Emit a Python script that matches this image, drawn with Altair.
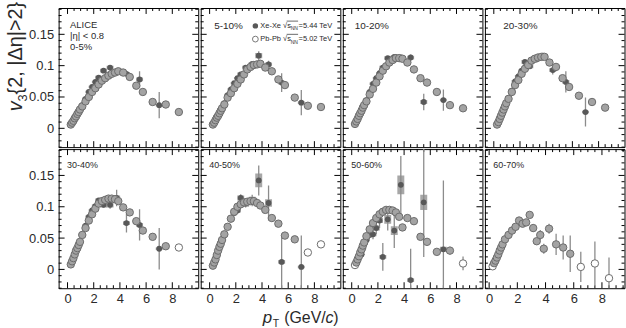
import altair as alt
import pandas as pd

FONT = "Liberation Sans"

CENTRALITY = ["0-5%", "5-10%", "10-20%", "20-30%", "30-40%", "40-50%", "50-60%", "60-70%"]

X_MAJOR = [0, 2, 4, 6, 8]
X_MINOR = [0.5, 1, 1.5, 2.5, 3, 3.5, 4.5, 5, 5.5, 6.5, 7, 7.5, 8.5, 9, 9.5]
Y_MAJOR = [0, 0.05, 0.1, 0.15]
Y_MINOR = [-0.03, -0.02, -0.01, 0.01, 0.02, 0.03, 0.04, 0.06, 0.07, 0.08, 0.09,
           0.11, 0.12, 0.13, 0.14, 0.16, 0.17, 0.18, 0.19]

PB_PT = [0.25, 0.35, 0.45, 0.55, 0.65, 0.75, 0.85, 0.95, 1.125, 1.375, 1.625, 1.875,
         2.125, 2.375, 2.625, 2.875, 3.125, 3.375, 3.625, 3.875, 4.25, 4.75, 5.25, 5.75,
         6.5, 7.5, 8.5]

PB_V = {
    "0-5%":   [0.006, 0.009, 0.012, 0.016, 0.019, 0.023, 0.026, 0.030, 0.035, 0.043, 0.050, 0.058, 0.064, 0.070, 0.076, 0.080, 0.084, 0.087, 0.089, 0.091, 0.089, 0.082, 0.068, 0.058, 0.042, 0.038, 0.026],
    "5-10%":  [0.006, 0.009, 0.013, 0.017, 0.020, 0.024, 0.028, 0.032, 0.038, 0.049, 0.056, 0.064, 0.071, 0.078, 0.086, 0.094, 0.098, 0.101, 0.102, 0.103, 0.097, 0.091, 0.078, 0.069, 0.049, 0.036, 0.034],
    "10-20%": [0.007, 0.011, 0.015, 0.020, 0.024, 0.028, 0.033, 0.037, 0.043, 0.054, 0.063, 0.073, 0.083, 0.092, 0.099, 0.105, 0.109, 0.112, 0.112, 0.111, 0.105, 0.094, 0.080, 0.073, 0.058, 0.037, 0.032],
    "20-30%": [0.006, 0.010, 0.015, 0.020, 0.025, 0.030, 0.035, 0.040, 0.047, 0.058, 0.069, 0.077, 0.087, 0.095, 0.101, 0.108, 0.111, 0.113, 0.114, 0.114, 0.105, 0.098, 0.080, 0.066, 0.052, 0.042, 0.033],
    "30-40%": [0.008, 0.013, 0.018, 0.024, 0.030, 0.034, 0.039, 0.044, 0.055, 0.066, 0.078, 0.088, 0.097, 0.105, 0.109, 0.111, 0.113, 0.113, 0.112, 0.109, 0.099, 0.091, 0.077, 0.062, 0.052, 0.037, 0.035],
    "40-50%": [0.006, 0.011, 0.016, 0.023, 0.030, 0.036, 0.041, 0.047, 0.056, 0.068, 0.081, 0.092, 0.100, 0.104, 0.107, 0.108, 0.109, 0.109, 0.106, 0.102, 0.095, 0.082, 0.073, 0.054, 0.048, 0.027, 0.040],
    "50-60%": [0.007, 0.011, 0.016, 0.021, 0.027, 0.032, 0.038, 0.043, 0.053, 0.064, 0.074, 0.082, 0.088, 0.092, 0.095, 0.095, 0.094, 0.091, 0.084, 0.067, 0.082, 0.077, 0.052, 0.044, 0.028, 0.030, 0.0095],
    "60-70%": [0.005, 0.010, 0.014, 0.019, 0.024, 0.030, 0.035, 0.040, 0.048, 0.055, 0.062, 0.068, 0.078, 0.073, 0.075, 0.087, 0.066, 0.045, 0.055, 0.033, 0.065, 0.040, 0.035, 0.025, 0.004, 0.0095, -0.014],
}

PB_ERR = {
    "0-5%":   [0, 0, 0, 0, 0, 0, 0, 0, 0, 0, 0, 0, 0, 0, 0, 0, 0, 0, 0, 0, 0, 0, 0, 0, 0.002, 0.002, 0.002],
    "5-10%":  [0, 0, 0, 0, 0, 0, 0, 0, 0, 0, 0, 0, 0, 0, 0, 0, 0, 0, 0, 0, 0, 0, 0, 0, 0.002, 0.002, 0.003],
    "10-20%": [0, 0, 0, 0, 0, 0, 0, 0, 0, 0, 0, 0, 0, 0, 0, 0, 0, 0, 0, 0, 0, 0, 0, 0, 0.002, 0.002, 0.003],
    "20-30%": [0, 0, 0, 0, 0, 0, 0, 0, 0, 0, 0, 0, 0, 0, 0, 0, 0, 0, 0, 0, 0, 0, 0, 0, 0.002, 0.003, 0.003],
    "30-40%": [0, 0, 0, 0, 0, 0, 0, 0, 0, 0, 0, 0, 0, 0, 0, 0, 0, 0, 0, 0, 0, 0, 0, 0, 0.003, 0.003, 0.004],
    "40-50%": [0, 0, 0, 0, 0, 0, 0, 0, 0, 0, 0, 0, 0, 0, 0, 0, 0, 0, 0, 0, 0, 0, 0, 0, 0.003, 0.004, 0.005],
    "50-60%": [0, 0, 0, 0, 0, 0, 0, 0, 0, 0, 0, 0, 0, 0, 0, 0, 0, 0, 0, 0, 0.003, 0.003, 0.004, 0.005, 0.004, 0.006, 0.011],
    "60-70%": [0, 0, 0, 0, 0, 0, 0, 0, 0, 0, 0, 0, 0, 0, 0, 0.004, 0.006, 0.005, 0.008, 0.008, 0.008, 0.017, 0.019, 0.029, 0.024, 0.035, 0.033],
}

PB_OPEN = {
    "30-40%": [8.5],
    "40-50%": [7.5, 8.5],
    "50-60%": [0.25, 8.5],
    "60-70%": [0.25, 6.5, 7.5, 8.5],
}

XE_PT = [0.25, 0.35, 0.45, 0.55, 0.65, 0.75, 0.85, 0.95, 1.125, 1.375, 1.625, 1.875,
         2.125, 2.375, 2.75, 3.25, 3.75, 4.5, 5.5, 7.0]

XE_V = {
    "0-5%":   [0.006, 0.009, 0.012, 0.016, 0.019, 0.023, 0.026, 0.030, 0.037, 0.047, 0.058, 0.066, 0.074, 0.081, 0.092, 0.097, 0.091, 0.087, 0.078, 0.037],
    "5-10%":  [0.006, 0.009, 0.013, 0.017, 0.020, 0.024, 0.028, 0.032, 0.040, 0.053, 0.062, 0.072, 0.080, 0.086, 0.097, 0.103, 0.116, 0.102, 0.073, 0.041],
    "10-20%": [0.007, 0.011, 0.015, 0.020, 0.024, 0.028, 0.033, 0.037, 0.045, 0.058, 0.071, 0.080, 0.088, 0.097, 0.112, 0.114, 0.113, 0.113, 0.042, 0.045],
    "20-30%": [0.006, 0.010, 0.015, 0.020, 0.025, 0.030, 0.035, 0.040, 0.048, 0.060, 0.075, 0.083, 0.092, 0.106, 0.099, 0.110, 0.115, 0.093, 0.074, 0.026],
    "30-40%": [0.008, 0.013, 0.018, 0.024, 0.030, 0.034, 0.039, 0.044, 0.056, 0.070, 0.084, 0.094, 0.101, 0.110, 0.103, 0.103, 0.114, 0.074, 0.071, 0.033],
    "40-50%": [0.006, 0.011, 0.016, 0.023, 0.030, 0.036, 0.041, 0.047, 0.055, 0.068, 0.080, 0.090, 0.094, 0.114, 0.105, 0.110, 0.142, 0.106, 0.012, 0.004],
    "50-60%": [0.007, 0.011, 0.016, 0.020, 0.024, 0.024, 0.033, 0.040, 0.047, 0.055, 0.056, 0.066, 0.078, 0.020, 0.080, 0.062, 0.135, -0.017, 0.107, 0.032],
}

XE_STAT = {
    "0-5%":   [0.001, 0.001, 0.001, 0.001, 0.001, 0.001, 0.001, 0.001, 0.001, 0.001, 0.001, 0.001, 0.001, 0.001, 0.002, 0.003, 0.004, 0.004, 0.013, 0.021],
    "5-10%":  [0.001, 0.001, 0.001, 0.001, 0.001, 0.001, 0.001, 0.001, 0.001, 0.001, 0.001, 0.001, 0.001, 0.001, 0.002, 0.003, 0.007, 0.006, 0.015, 0.020],
    "10-20%": [0.001, 0.001, 0.001, 0.001, 0.001, 0.001, 0.001, 0.001, 0.001, 0.001, 0.001, 0.001, 0.001, 0.001, 0.002, 0.003, 0.004, 0.005, 0.013, 0.017],
    "20-30%": [0.001, 0.001, 0.001, 0.001, 0.001, 0.001, 0.001, 0.001, 0.001, 0.001, 0.001, 0.001, 0.001, 0.001, 0.003, 0.004, 0.006, 0.007, 0.017, 0.023],
    "30-40%": [0.001, 0.001, 0.001, 0.001, 0.001, 0.001, 0.001, 0.001, 0.001, 0.001, 0.001, 0.001, 0.001, 0.001, 0.004, 0.006, 0.013, 0.015, 0.025, 0.033],
    "40-50%": [0.001, 0.001, 0.001, 0.001, 0.001, 0.001, 0.001, 0.001, 0.001, 0.001, 0.001, 0.001, 0.004, 0.006, 0.006, 0.009, 0.024, 0.028, 0.045, 0.050],
    "50-60%": [0.001, 0.001, 0.001, 0.001, 0.001, 0.001, 0.001, 0.001, 0.001, 0.005, 0.008, 0.010, 0.012, 0.022, 0.018, 0.028, 0.046, 0.050, 0.087, 0.110],
}

XE_SYS = {
    "0-5%":   [0.001, 0.001, 0.001, 0.001, 0.001, 0.001, 0.001, 0.001, 0.002, 0.002, 0.002, 0.002, 0.002, 0.003, 0.003, 0.003, 0.003, 0.003, 0.003, 0.002],
    "5-10%":  [0.001, 0.001, 0.001, 0.001, 0.001, 0.001, 0.001, 0.001, 0.002, 0.002, 0.002, 0.002, 0.002, 0.003, 0.003, 0.003, 0.004, 0.003, 0.003, 0.002],
    "10-20%": [0.001, 0.001, 0.001, 0.001, 0.001, 0.001, 0.001, 0.001, 0.002, 0.002, 0.002, 0.002, 0.002, 0.003, 0.003, 0.003, 0.003, 0.003, 0.003, 0.002],
    "20-30%": [0.001, 0.001, 0.001, 0.001, 0.001, 0.001, 0.001, 0.001, 0.002, 0.002, 0.002, 0.002, 0.002, 0.003, 0.003, 0.003, 0.003, 0.003, 0.003, 0.002],
    "30-40%": [0.001, 0.001, 0.001, 0.001, 0.001, 0.001, 0.001, 0.001, 0.002, 0.002, 0.002, 0.002, 0.003, 0.003, 0.004, 0.004, 0.004, 0.003, 0.003, 0.002],
    "40-50%": [0.001, 0.001, 0.001, 0.001, 0.001, 0.001, 0.001, 0.001, 0.002, 0.002, 0.002, 0.002, 0.003, 0.004, 0.005, 0.006, 0.011, 0.006, 0.003, 0.002],
    "50-60%": [0.001, 0.001, 0.001, 0.001, 0.001, 0.001, 0.001, 0.001, 0.002, 0.003, 0.003, 0.004, 0.004, 0.003, 0.007, 0.007, 0.015, 0.003, 0.012, 0.004],
}

XDOM = [-0.3, 9.6]
YDOM = [-0.03, 0.192]
W, H = 140.5, 140

PB_FILL = "#a3a3a3"
PB_STROKE = "#6c6c6c"
XE_FILL = "#585858"
BAR = "#8c8c8c"
TXT = "#2a2a2a"


def one():
    return pd.DataFrame({"k": [0]})


def label(txt, x, y, size, style="normal", angle=0, baseline="middle", align="left"):
    return alt.Chart(one()).mark_text(
        text=txt, align=align, baseline=baseline, fontSize=size, fontStyle=style,
        angle=angle, font=FONT, color=TXT
    ).encode(x=alt.value(x), y=alt.value(y))


def panel(i):
    c = CENTRALITY[i]
    row, col = divmod(i, 4)
    if row == 1:
        xaxis = alt.Axis(values=X_MAJOR, ticks=False, domain=False, grid=False, title=None,
                         labelFontSize=13, labelPadding=4, labelFont=FONT, labelColor=TXT,
                         format="d")
    else:
        xaxis = None
    if col == 0:
        yaxis = alt.Axis(values=Y_MAJOR, ticks=False, domain=False, grid=False, title=None,
                         labelFontSize=13, labelPadding=5, labelFont=FONT, labelColor=TXT,
                         format="~g")
    else:
        yaxis = None

    def X(f):
        return alt.X(f, type="quantitative", scale=alt.Scale(domain=XDOM, nice=False, zero=False), axis=xaxis)

    def Y(f):
        return alt.Y(f, type="quantitative", scale=alt.Scale(domain=YDOM, nice=False, zero=False), axis=yaxis)

    layers = []

    pb = pd.DataFrame({"pt": PB_PT, "v": PB_V[c], "err": PB_ERR[c]})
    pb["lo"] = pb["v"] - pb["err"]
    pb["hi"] = pb["v"] + pb["err"]
    pb["open"] = pb["pt"].isin(PB_OPEN.get(c, []))

    # inner ticks on all four sides
    for vals, ln in ((X_MAJOR, 6), (X_MINOR, 3)):
        d = pd.DataFrame({"t": vals})
        layers.append(alt.Chart(d).mark_rule(color="black", strokeWidth=1).encode(
            x=X("t"), y=alt.value(H), y2=alt.value(H - ln)))
        layers.append(alt.Chart(d).mark_rule(color="black", strokeWidth=1).encode(
            x=X("t"), y=alt.value(0), y2=alt.value(ln)))
    for vals, ln in ((Y_MAJOR, 6), (Y_MINOR, 3)):
        d = pd.DataFrame({"t": vals})
        layers.append(alt.Chart(d).mark_rule(color="black", strokeWidth=1).encode(
            y=Y("t"), x=alt.value(0), x2=alt.value(ln)))
        layers.append(alt.Chart(d).mark_rule(color="black", strokeWidth=1).encode(
            y=Y("t"), x=alt.value(W), x2=alt.value(W - ln)))

    if c in XE_V:
        xe = pd.DataFrame({"pt": XE_PT, "v": XE_V[c], "st": XE_STAT[c], "sy": XE_SYS[c]})
        xe["lo"] = xe["v"] - xe["st"]
        xe["hi"] = xe["v"] + xe["st"]
        xe["slo"] = xe["v"] - xe["sy"]
        xe["shi"] = xe["v"] + xe["sy"]
        layers.append(alt.Chart(xe).mark_bar(size=7, color="#8a8a8a", opacity=0.75, clip=True).encode(
            x=X("pt"), y=Y("slo"), y2="shi:Q"))
        layers.append(alt.Chart(xe).mark_rule(color=BAR, strokeWidth=1.3, clip=True).encode(
            x=X("pt"), y=Y("lo"), y2="hi:Q"))

    layers.append(alt.Chart(pb).transform_filter("datum.err > 0").mark_rule(
        color=BAR, strokeWidth=1.3, clip=True).encode(x=X("pt"), y=Y("lo"), y2="hi:Q"))

    if c in XE_V:
        layers.append(alt.Chart(xe).mark_circle(size=34, opacity=1, color=XE_FILL).encode(
            x=X("pt"), y=Y("v")))

    layers.append(alt.Chart(pb).mark_circle(size=56, opacity=1, stroke=PB_STROKE, strokeWidth=1).encode(
        x=X("pt"), y=Y("v"),
        fill=alt.condition("datum.open", alt.value("white"), alt.value(PB_FILL))))

    if i == 0:
        layers += [label("ALICE", 11.5, 17.5, 9.5),
                   label("|η| < 0.8", 11.5, 28, 9.5),
                   label("0-5%", 11.5, 39, 9.5)]
        layers += [label("v", -37, 104, 20, style="italic", angle=270, baseline="alphabetic"),
                   label("3", -32, 94, 13, angle=270, baseline="alphabetic"),
                   label("{2, |Δη|>2}", -37, 87, 20, angle=270, baseline="alphabetic")]
    elif row == 0:
        lx = {1: 13.5, 2: 12, 3: 18.5}[i]
        layers.append(label(c, lx, 18.5, 10))
    else:
        layers.append(label(c, 8.5, 16.5, 9))

    if i == 1:
        leg = one()
        layers.append(alt.Chart(leg).mark_circle(size=30, color=XE_FILL, opacity=1).encode(
            x=alt.value(55), y=alt.value(18)))
        layers.append(alt.Chart(leg).mark_point(size=34, shape="circle", color="#777", filled=False,
                                                strokeWidth=1, opacity=1).encode(
            x=alt.value(55), y=alt.value(31.3)))
        layers += [label("Xe-Xe √s", 60, 18, 7.5), label("NN", 90.5, 20.5, 5),
                   label("=5.44 TeV", 98.5, 18, 7.5),
                   label("Pb-Pb √s", 60, 31.3, 7.5), label("NN", 90.5, 33.8, 5),
                   label("=5.02 TeV", 98.5, 31.3, 7.5)]
        layers.append(alt.Chart(leg).mark_rule(color=TXT, strokeWidth=0.7).encode(
            x=alt.value(86.5), x2=alt.value(98), y=alt.value(13.2)))
        layers.append(alt.Chart(leg).mark_rule(color=TXT, strokeWidth=0.7).encode(
            x=alt.value(86.5), x2=alt.value(98), y=alt.value(26.5)))

    if i == 5:
        layers += [label("p", 62.5, 175, 17, style="italic", baseline="alphabetic"),
                   label("T", 72.5, 179, 10.5, baseline="alphabetic"),
                   label("(GeV/", 84, 175, 16, baseline="alphabetic"),
                   label("c", 125.5, 175, 16, style="italic", baseline="alphabetic"),
                   label(")", 133.3, 175, 16, baseline="alphabetic")]

    return alt.layer(*layers).properties(width=W, height=H)


panels = [panel(i) for i in range(8)]

chart = alt.concat(*panels, columns=4, spacing=0).properties(
    padding={"left": 5, "top": 0, "right": 0, "bottom": 0},
    background="white",
).configure_view(stroke="black", strokeWidth=1)

chart.save("out.html", embed_options={"renderer": "svg", "actions": False})
